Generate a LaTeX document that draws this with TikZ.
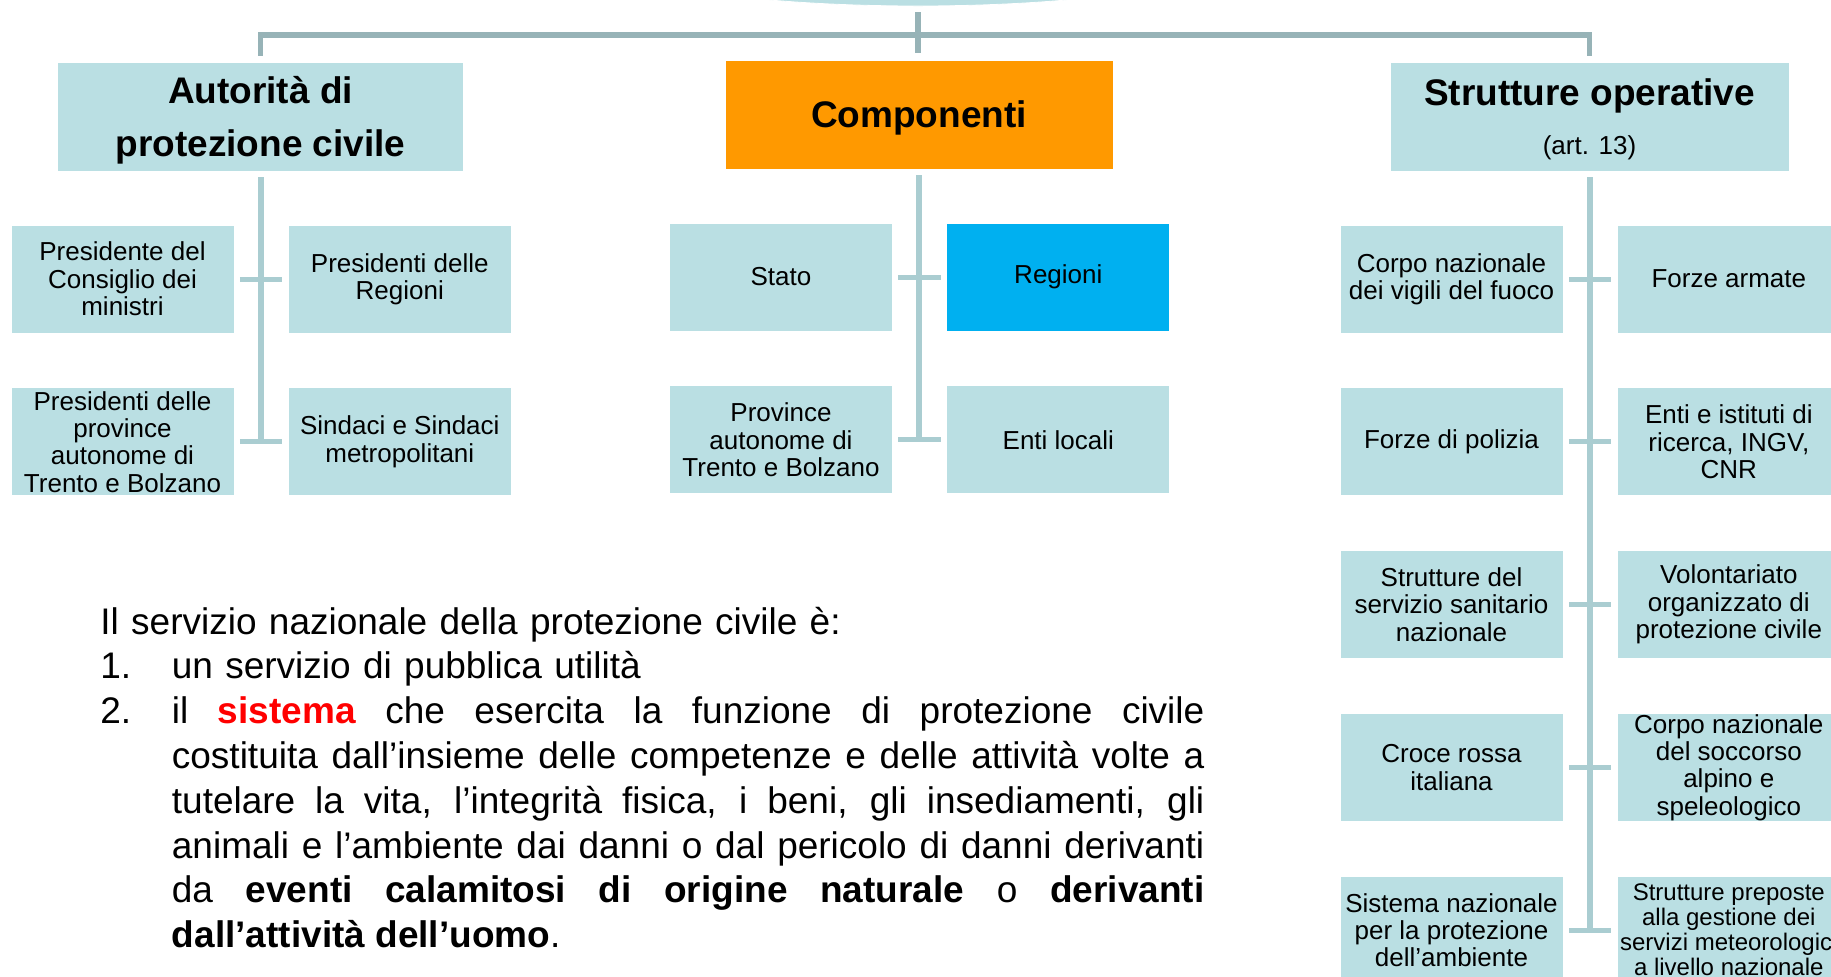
\documentclass[tikz,border=0pt]{standalone}
\usepackage{fontspec}
\setmainfont{Liberation Sans}
\usepackage{xcolor}
\usepackage{tikz}
\usetikzlibrary{shapes.geometric,positioning}
\definecolor{boxcyan}{RGB}{186,223,227}
\definecolor{barcol}{RGB}{151,179,183}
\definecolor{stemcol}{RGB}{170,205,209}
\definecolor{headorange}{RGB}{255,153,0}
\definecolor{regblue}{RGB}{0,176,240}
\definecolor{sistred}{RGB}{255,0,0}
\tikzset{
    box/.style={rectangle, draw=white, line width=0.4pt, fill=boxcyan, minimum width=111.5pt, minimum height=54pt, inner sep=0pt, align=center, font=\fontsize{13}{13.7}\selectfont},
    head/.style={box, minimum height=54.5pt, text depth=0pt, font=\fontsize{18.5}{26.5}\selectfont\bfseries},
    bar/.style={draw=barcol, line width=2.6pt},
    stem/.style={draw=stemcol, line width=3pt},
    tick/.style={draw=stemcol, line width=2.5pt, shorten <=2.75pt, shorten >=2.75pt}
}

\begin{document}
\begin{tikzpicture}[x=0.5pt, y=-0.5pt, node distance=27pt and 26.75pt]
    \useasboundingbox (0,0) rectangle (1831,976);
    \clip (0,0) rectangle (1831,976);

    % titolo (tagliato in alto)
    \node[ellipse, fill=boxcyan, draw=white, minimum width=340pt, minimum height=60pt] (title) at (918,-54) {};

    % primo livello
    \node[head, minimum width=203pt] (aut) at (260.5,116.5) {Autorità di\\protezione civile};
    \node[head, minimum width=194pt, fill=headorange] (comp) at (919,114.5) {Componenti};
    \node[head, minimum width=199.5pt] (strut) at (1589.5,116.5) {Strutture operative\\[-2pt]\fontsize{13}{15}\selectfont\mdseries (art. 13)};

    % autorita
    \node[box] (pcm) at (122.5,279) {Presidente del\\Consiglio dei\\ministri};
    \node[box, right=of pcm] (preg) {Presidenti delle\\Regioni};
    \node[box, below=of pcm] (pprov) {Presidenti delle\\province\\autonome di\\Trento e Bolzano};
    \node[box, below=of preg] (psind) {Sindaci e Sindaci\\metropolitani};

    % componenti
    \node[box] (stato) at (781,277) {Stato};
    \node[box, right=of stato, fill=regblue] (reg) {Regioni};
    \node[box, below=of stato] (prov) {Province\\autonome di\\Trento e Bolzano};
    \node[box, below=of reg] (enti) {Enti locali};

    % strutture operative
    \node[box] (vvf) at (1451.5,279) {Corpo nazionale\\dei vigili del fuoco};
    \node[box, right=of vvf] (armate) {Forze armate};
    \node[box, below=of vvf] (polizia) {Forze di polizia};
    \node[box, below=of armate] (ricerca) {Enti e istituti di\\ricerca, INGV,\\CNR};
    \node[box, below=of polizia] (sanita) {Strutture del\\servizio sanitario\\nazionale};
    \node[box, below=of ricerca] (volont) {Volontariato\\organizzato di\\protezione civile};
    \node[box, below=of sanita] (cri) {Croce rossa\\italiana};
    \node[box, below=of volont] (cnsas) {Corpo nazionale\\del soccorso\\alpino e\\speleologico};
    \node[box, below=of cri] (snpa) {Sistema nazionale\\per la protezione\\dell’ambiente};
    \node[box, below=of cnsas, font=\fontsize{12}{12.5}\selectfont] (meteo) {Strutture preposte\\alla gestione dei\\servizi meteorologici\\a livello nazionale};

    % collegamenti in alto
    \coordinate (bartop) at (918,35);
    \draw[bar, shorten <=3pt, shorten >=3.5pt] (title.south) -- (title.south |- comp.north);
    \draw[bar, shorten <=3pt, shorten >=3pt] (aut.north) |- (bartop) -| (strut.north);

    % aste verticali
    \draw[stem, shorten <=3pt, shorten >=-1.25pt] (aut.south) -- (aut.south |- pprov);
    \draw[stem, shorten <=3pt, shorten >=-1.25pt] (comp.south) -- (comp.south |- prov);
    \draw[stem, shorten <=3pt, shorten >=-1.25pt] (strut.south) -- (strut.south |- snpa);

    % trattini
    \draw[tick] (pcm) -- (preg);
    \draw[tick] (pprov) -- (psind);
    \draw[tick] (stato) -- (reg);
    \draw[tick] (prov) -- (enti);
    \draw[tick] (vvf) -- (armate);
    \draw[tick] (polizia) -- (ricerca);
    \draw[tick] (sanita) -- (volont);
    \draw[tick] (cri) -- (cnsas);
    \draw[tick] (snpa) -- (meteo);

    % testo
    \node[anchor=north west, inner sep=0pt, text width=552pt, align=left, font=\fontsize{18.5}{22.4}\selectfont] (testo) at (100,606.5) {\noindent Il servizio nazionale della protezione civile è:\par
        \noindent\makebox[35.75pt][l]{1.}un servizio di pubblica utilità\par
        \noindent\makebox[35.75pt][l]{2.}\parbox[t]{516.25pt}{\leftskip=0pt\rightskip=0pt\spaceskip=0pt\xspaceskip=0pt\parfillskip=0pt plus 1fil\hyphenpenalty=10000 il {\color{sistred}\bfseries sistema} che esercita la funzione di protezione civile\linebreak costituita dall’insieme delle competenze e delle attività volte a\linebreak tutelare la vita, l’integrità fisica, i beni, gli insediamenti, gli\linebreak animali e l’ambiente dai danni o dal pericolo di danni derivanti\linebreak da \textbf{eventi calamitosi di origine naturale} o \textbf{derivanti\linebreak dall’attività dell’uomo}.}};
\end{tikzpicture}
\end{document}
